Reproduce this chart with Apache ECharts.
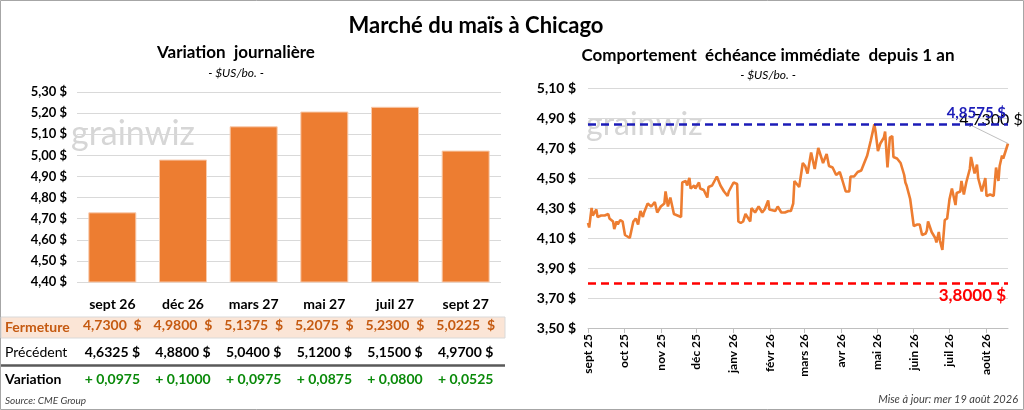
<!DOCTYPE html>
<html>
<head>
<meta charset="utf-8">
<script src="https://cdn.jsdelivr.net/npm/echarts@6/dist/echarts.min.js"></script>
<style>
  html, body { margin: 0; padding: 0; background: #fff; }
  #chart { width: 1024px; height: 410px; }
</style>
</head>
<body>
<div id="chart"></div>
<script>
// --- données : variation journalière ---
const contrats = ["sept 26", "déc 26", "mars 27", "mai 27", "juil 27", "sept 27"];
const fermeture = [4.7300, 4.9800, 5.1375, 5.2075, 5.2300, 5.0225];
const precedent = [4.6325, 4.8800, 5.0400, 5.1200, 5.1500, 4.9700];

// --- données : échéance immédiate depuis 1 an ---
const dates = [
  "2025-09-01","2025-09-02","2025-09-04","2025-09-05","2025-09-08","2025-09-09","2025-09-12","2025-09-15",
  "2025-09-18","2025-09-19","2025-09-22","2025-09-23","2025-09-25","2025-09-26","2025-09-28","2025-09-30",
  "2025-10-02","2025-10-04","2025-10-06","2025-10-09","2025-10-11","2025-10-13","2025-10-14","2025-10-15",
  "2025-10-17","2025-10-18","2025-10-21","2025-10-24","2025-10-27","2025-10-29",
  "2025-11-01","2025-11-04","2025-11-05","2025-11-07","2025-11-09","2025-11-12","2025-11-18","2025-11-19",
  "2025-11-22","2025-11-23","2025-11-25","2025-11-26","2025-11-29","2025-11-30",
  "2025-12-03","2025-12-04","2025-12-07","2025-12-10","2025-12-11","2025-12-14","2025-12-18","2025-12-21",
  "2025-12-24","2025-12-27","2025-12-28",
  "2026-01-01","2026-01-04","2026-01-05","2026-01-07","2026-01-09","2026-01-11","2026-01-15","2026-01-16",
  "2026-01-19","2026-01-22","2026-01-25","2026-01-27","2026-01-30","2026-01-31",
  "2026-02-05","2026-02-07","2026-02-10","2026-02-13","2026-02-16","2026-02-18","2026-02-20","2026-02-21",
  "2026-02-25","2026-02-28",
  "2026-03-02","2026-03-04","2026-03-07","2026-03-10","2026-03-13","2026-03-15","2026-03-17","2026-03-20",
  "2026-03-22","2026-03-25","2026-03-28","2026-03-31",
  "2026-04-02","2026-04-05","2026-04-08","2026-04-09","2026-04-12","2026-04-15","2026-04-18","2026-04-20",
  "2026-04-23","2026-04-26","2026-04-29","2026-04-30",
  "2026-05-02","2026-05-04","2026-05-07","2026-05-08","2026-05-10","2026-05-12","2026-05-14","2026-05-15",
  "2026-05-18","2026-05-21","2026-05-24","2026-05-25","2026-05-26","2026-05-29",
  "2026-06-01","2026-06-04","2026-06-06","2026-06-08","2026-06-11","2026-06-12","2026-06-13","2026-06-16",
  "2026-06-19","2026-06-20","2026-06-22","2026-06-23","2026-06-25","2026-06-27","2026-06-29",
  "2026-07-01","2026-07-03","2026-07-06","2026-07-07","2026-07-10","2026-07-11","2026-07-13","2026-07-15",
  "2026-07-18","2026-07-19","2026-07-22","2026-07-24","2026-07-25","2026-07-28","2026-07-31",
  "2026-08-01","2026-08-04","2026-08-07","2026-08-08","2026-08-09","2026-08-11","2026-08-12","2026-08-14",
  "2026-08-15","2026-08-19"
];
const prix = [
  4.20,4.17,4.30,4.25,4.29,4.24,4.25,4.25,4.26,4.23,4.21,4.16,4.21,4.19,4.22,4.21,
  4.12,4.11,4.10,4.21,4.23,4.19,4.24,4.28,4.24,4.27,4.33,4.31,4.34,4.27,
  4.31,4.33,4.41,4.31,4.37,4.26,4.24,4.47,4.48,4.45,4.50,4.43,4.45,4.43,
  4.47,4.43,4.42,4.37,4.44,4.45,4.51,4.45,4.41,4.38,4.41,
  4.47,4.46,4.21,4.20,4.21,4.26,4.21,4.30,4.27,4.31,4.27,4.29,4.35,4.29,
  4.28,4.31,4.27,4.27,4.28,4.28,4.33,4.48,4.44,4.60,
  4.58,4.53,4.67,4.56,4.70,4.65,4.60,4.66,4.58,4.57,4.52,4.54,
  4.49,4.41,4.41,4.51,4.51,4.54,4.55,4.59,4.65,4.75,4.8575,4.81,
  4.68,4.73,4.77,4.81,4.57,4.77,4.78,4.64,4.63,4.60,4.52,4.47,4.45,4.36,
  4.18,4.19,4.19,4.12,4.13,4.15,4.21,4.14,4.10,4.07,4.14,4.08,4.02,4.22,4.23,
  4.36,4.43,4.32,4.40,4.41,4.48,4.39,4.47,4.56,4.64,4.53,4.59,4.50,4.41,4.50,
  4.38,4.39,4.38,4.37,4.57,4.48,4.58,4.65,4.63,4.73
];
const sommet = 4.8575;
const creux = 3.8000;
const moisFr = ["janv", "févr", "mars", "avr", "mai", "juin", "juil", "août", "sept", "oct", "nov", "déc"];

const POLICE = "Lato, 'Noto Sans', sans-serif";
const fr = (v, d) => v.toFixed(d).replace(".", ",");

const dernier = prix.length - 1;
const serieLigne = dates.map((d, i) => {
  if (i !== dernier) return [d, prix[i]];
  return {
    value: [d, prix[i]],
    label: {
      show: true,
      formatter: fr(prix[i], 4) + " $",
      color: "#000",
      fontSize: 16,
      fontFamily: POLICE,
      position: "top"
    },
    labelLine: { show: true, lineStyle: { color: "#BFBFBF", width: 1 } }
  };
});

const chart = echarts.init(document.getElementById("chart"), null, { renderer: "canvas" });

const option = {
  animation: false,
  textStyle: { fontFamily: POLICE },
  grid: [
    { left: 77, right: 523, top: 92, bottom: 128 },
    { left: 588, right: 16, top: 88, bottom: 82 }
  ],
  xAxis: [
    {
      type: "category",
      gridIndex: 0,
      data: contrats,
      axisLine: { show: false },
      axisTick: { show: false },
      axisLabel: {
        margin: 13,
        interval: 0,
        formatter: (v, i) =>
          "{h|" + v + "}\n{c|" + fr(fermeture[i], 4) + "  $}\n{p|" + fr(precedent[i], 4) +
          " $}\n{v|+ " + fr(fermeture[i] - precedent[i], 4) + "}",
        rich: {
          h: { fontSize: 14, fontWeight: "bold", color: "#000", lineHeight: 18, fontFamily: POLICE },
          c: { fontSize: 14, fontWeight: "bold", color: "#C55A11", lineHeight: 24, fontFamily: POLICE },
          p: { fontSize: 14, fontWeight: "bold", color: "#000", lineHeight: 30, fontFamily: POLICE },
          v: { fontSize: 14, fontWeight: "bold", color: "#0A8A0A", lineHeight: 24, fontFamily: POLICE }
        }
      }
    },
    {
      type: "time",
      gridIndex: 1,
      min: "2025-09-01",
      max: dates[dernier],
      minInterval: 28 * 86400000,
      maxInterval: 31 * 86400000,
      axisLine: { lineStyle: { color: "#BFBFBF" } },
      axisTick: { show: true, length: 5, lineStyle: { color: "#BFBFBF" } },
      splitLine: { show: false },
      axisLabel: {
        rotate: 90,
        margin: 6,
        showMaxLabel: false,
        color: "#000",
        fontSize: 12,
        fontWeight: "bold",
        formatter: (value) => {
          const d = new Date(value);
          return moisFr[d.getMonth()] + " " + String(d.getFullYear()).slice(2);
        }
      }
    }
  ],
  yAxis: [
    {
      type: "value",
      gridIndex: 0,
      min: 4.4,
      max: 5.3,
      interval: 0.1,
      axisLine: { show: false },
      axisTick: { show: false },
      splitLine: { lineStyle: { color: "#D9D9D9" } },
      axisLabel: {
        margin: 10,
        color: "#000",
        fontSize: 13,
        fontWeight: "bold",
        formatter: (v) => fr(v, 2) + " $"
      }
    },
    {
      type: "value",
      gridIndex: 1,
      min: 3.5,
      max: 5.1,
      interval: 0.2,
      axisLine: { show: false },
      axisTick: { show: false },
      splitLine: { lineStyle: { color: "#D9D9D9" } },
      axisLabel: {
        margin: 12,
        color: "#000",
        fontSize: 14,
        fontWeight: "bold",
        formatter: (v) => fr(v, 2) + " $"
      }
    }
  ],
  series: [
    {
      type: "bar",
      xAxisIndex: 0,
      yAxisIndex: 0,
      data: fermeture,
      barWidth: 48,
      itemStyle: { color: "#ED7D31", borderColor: "#F8CBAD", borderWidth: 1 }
    },
    {
      type: "line",
      xAxisIndex: 1,
      yAxisIndex: 1,
      data: serieLigne,
      showSymbol: true,
      showAllSymbol: true,
      symbol: "circle",
      symbolSize: 0,
      lineStyle: { color: "#ED7D31", width: 2.6 },
      itemStyle: { color: "#ED7D31" },
      labelLayout: (params) => (params.dataIndex === dernier ? { dx: -17, dy: -11 } : {}),
      markLine: {
        silent: true,
        symbol: "none",
        data: [
          {
            yAxis: sommet,
            lineStyle: { color: "#1C1CB8", type: [8, 5], width: 2.5 },
            label: {
              position: "insideEndTop",
              formatter: fr(sommet, 4) + " $",
              color: "#1C1CB8",
              fontSize: 15,
              fontWeight: "bold",
              distance: [2, 3]
            }
          },
          {
            yAxis: creux,
            lineStyle: { color: "#FF0000", type: [8, 5], width: 2.5 },
            label: {
              position: "insideEndBottom",
              formatter: fr(creux, 4) + " $",
              color: "#FF0000",
              fontSize: 17,
              fontWeight: "bold",
              distance: [2, 4]
            }
          }
        ]
      }
    }
  ],
  graphic: [
    { type: "rect", z: -10, shape: { x: 0.5, y: 0.5, width: 1023, height: 409 }, style: { fill: "#fff", stroke: "#A6A6A6", lineWidth: 1 } },
    { type: "rect", z: -5, shape: { x: 1, y: 317, width: 504, height: 21 }, style: { fill: "#FBE5D6", stroke: "#D9D9D9", lineWidth: 1 } },
    { type: "line", z: -5, shape: { x1: 1, y1: 365.5, x2: 505, y2: 365.5 }, style: { stroke: "#595959", lineWidth: 2.5 } },
    { type: "text", x: 476, y: 26, style: { text: "Marché du maïs à Chicago", font: "bold 22px " + POLICE, fill: "#000", textAlign: "center", textVerticalAlign: "middle" } },
    { type: "text", x: 236, y: 53, style: { text: "Variation  journalière", font: "bold 17px " + POLICE, fill: "#000", textAlign: "center", textVerticalAlign: "middle" } },
    { type: "text", x: 236, y: 73, style: { text: "- $US/bo. -", font: "italic 12px " + POLICE, fill: "#000", textAlign: "center", textVerticalAlign: "middle" } },
    { type: "text", x: 768, y: 56, style: { text: "Comportement  échéance immédiate  depuis 1 an", font: "bold 17px " + POLICE, fill: "#000", textAlign: "center", textVerticalAlign: "middle" } },
    { type: "text", x: 768, y: 75, style: { text: "- $US/bo. -", font: "italic 12px " + POLICE, fill: "#000", textAlign: "center", textVerticalAlign: "middle" } },
    { type: "text", z: 0, x: 71, y: 134, style: { text: "grainwiz", font: "34px " + POLICE, fill: "#D6D6D6", textAlign: "left", textVerticalAlign: "middle" } },
    { type: "text", z: 0, x: 586, y: 125, style: { text: "grainwiz", font: "32px " + POLICE, fill: "#D6D6D6", textAlign: "left", textVerticalAlign: "middle" } },
    { type: "text", x: 5, y: 327, style: { text: "Fermeture", font: "bold 14px " + POLICE, fill: "#C55A11", textVerticalAlign: "middle" } },
    { type: "text", x: 5, y: 352, style: { text: "Précédent", font: "14px " + POLICE, fill: "#000", textVerticalAlign: "middle" } },
    { type: "text", x: 5, y: 379, style: { text: "Variation", font: "bold 14px " + POLICE, fill: "#000", textVerticalAlign: "middle" } },
    { type: "text", x: 5, y: 401, style: { text: "Source: CME Group", font: "italic 10px " + POLICE, fill: "#404040", textVerticalAlign: "middle" } },
    { type: "text", x: 1018, y: 399, style: { text: "Mise à jour: mer 19 août 2026", font: "italic 11px " + POLICE, fill: "#404040", textAlign: "right", textVerticalAlign: "middle" } }
  ]
};

chart.setOption(option);
</script>
</body>
</html>
